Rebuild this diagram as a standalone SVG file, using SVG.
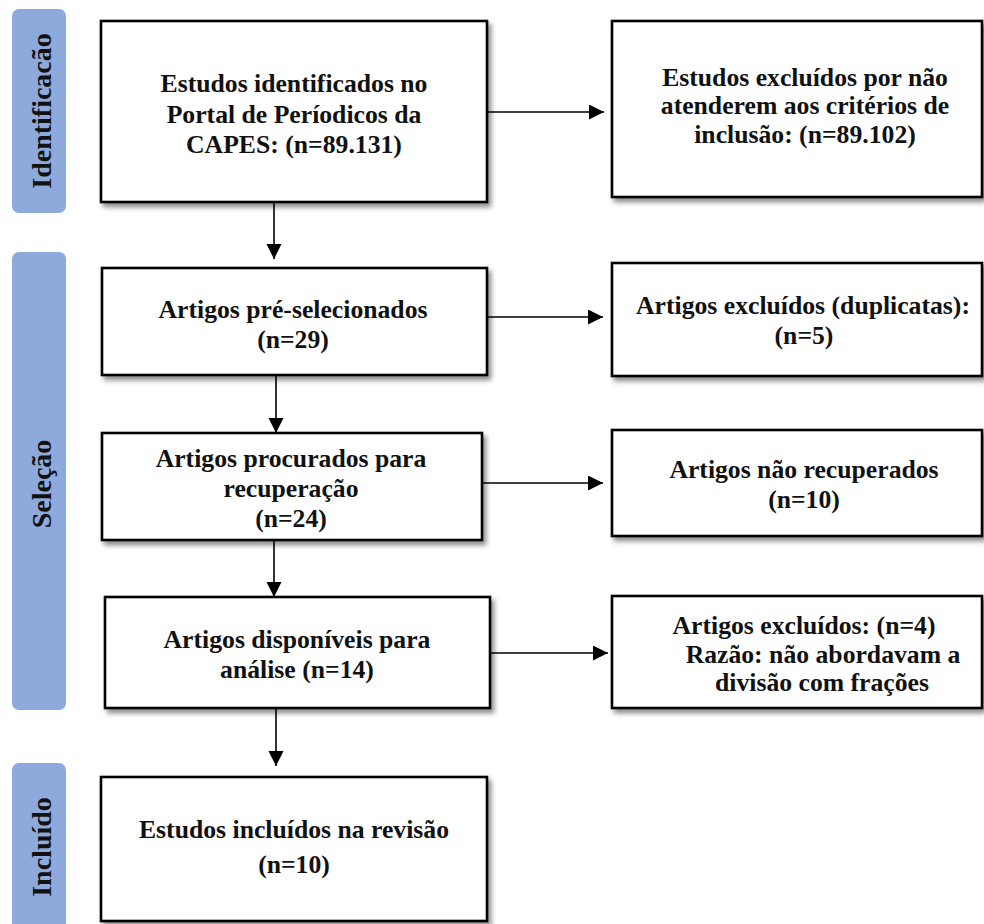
<svg xmlns="http://www.w3.org/2000/svg" width="984" height="924" viewBox="0 0 984 924">
<defs>
<filter id="sh" x="-5%" y="-5%" width="115%" height="120%">
<feDropShadow dx="3" dy="4" stdDeviation="2.5" flood-color="#000" flood-opacity="0.45"/>
</filter>
<marker id="ah" markerUnits="userSpaceOnUse" markerWidth="16" markerHeight="16" refX="15" refY="7.5" orient="auto">
<path d="M0,0 L15,7.5 L0,15 z" fill="#000"/>
</marker>
<style>
.bar{fill:#8EA9DB}
.lbl{font-family:"Liberation Serif","Times New Roman",serif;font-weight:bold;font-size:28px;fill:#111;text-anchor:middle}
.box{fill:#fff;stroke:#000;stroke-width:2.6;filter:url(#sh)}
.t{font-family:"Liberation Serif","Times New Roman",serif;font-weight:bold;font-size:25.7px;fill:#111;text-anchor:middle}
.c{fill:none;stroke:#000;stroke-width:1.6;marker-end:url(#ah)}
</style>
</defs>
<rect width="984" height="924" fill="#fff"/>

<g id="phase-identificacao">
<rect class="bar" x="12" y="9" width="54" height="204" rx="7"/>
<text class="lbl" transform="rotate(-90)" x="-111" y="51">Identificacão</text>
</g>
<g id="phase-selecao">
<rect class="bar" x="12" y="252" width="54" height="458" rx="7"/>
<text class="lbl" transform="rotate(-90)" x="-484" y="51">Seleção</text>
</g>
<g id="phase-incluido">
<rect class="bar" x="12" y="763" width="54" height="175" rx="7"/>
<text class="lbl" transform="rotate(-90)" x="-847" y="51">Incluído</text>
</g>

<g id="connectors">
<line class="c" x1="487" y1="112" x2="604" y2="112"/>
<line class="c" x1="487" y1="317" x2="603" y2="317"/>
<line class="c" x1="482" y1="483" x2="603" y2="483"/>
<line class="c" x1="490" y1="653" x2="608" y2="653"/>
<line class="c" x1="274" y1="202" x2="274" y2="259"/>
<line class="c" x1="276" y1="375" x2="276" y2="433"/>
<line class="c" x1="274" y1="540" x2="274" y2="597"/>
<line class="c" x1="276" y1="708" x2="276" y2="766"/>
</g>

<g id="n1">
<rect class="box" x="101" y="21" width="386" height="181"/>
<text class="t" x="294" y="92">Estudos identificados no</text>
<text class="t" x="294" y="123">Portal de Períodicos da</text>
<text class="t" x="294" y="153">CAPES: (n=89.131)</text>
</g>
<g id="n2">
<rect class="box" x="612" y="21" width="370" height="176"/>
<text class="t" x="805" y="86">Estudos excluídos por não</text>
<text class="t" x="805" y="114">atenderem aos critérios de</text>
<text class="t" x="805" y="143">inclusão: (n=89.102)</text>
</g>
<g id="n3">
<rect class="box" x="102" y="268" width="385" height="107"/>
<text class="t" x="293" y="318">Artigos pré-selecionados</text>
<text class="t" x="293" y="348">(n=29)</text>
</g>
<g id="n4">
<rect class="box" x="612" y="263" width="370" height="113"/>
<text class="t" x="803" y="314">Artigos excluídos (duplicatas):</text>
<text class="t" x="804" y="344">(n=5)</text>
</g>
<g id="n5">
<rect class="box" x="102" y="433" width="380" height="107"/>
<text class="t" x="291" y="467">Artigos procurados para</text>
<text class="t" x="291" y="497">recuperação</text>
<text class="t" x="291" y="527">(n=24)</text>
</g>
<g id="n6">
<rect class="box" x="612" y="430" width="370" height="106"/>
<text class="t" x="804" y="478">Artigos não recuperados</text>
<text class="t" x="804" y="508">(n=10)</text>
</g>
<g id="n7">
<rect class="box" x="105" y="597" width="385" height="111"/>
<text class="t" x="297" y="648">Artigos disponíveis para</text>
<text class="t" x="297" y="678">análise (n=14)</text>
</g>
<g id="n8">
<rect class="box" x="612" y="596" width="370" height="112"/>
<text class="t" x="804" y="634">Artigos excluídos: (n=4)</text>
<text class="t" x="823" y="663">Razão: não abordavam a</text>
<text class="t" x="822" y="691">divisão com frações</text>
</g>
<g id="n9">
<rect class="box" x="101" y="777" width="386" height="144"/>
<text class="t" x="294" y="838">Estudos incluídos na revisão</text>
<text class="t" x="294" y="873">(n=10)</text>
</g>
</svg>
